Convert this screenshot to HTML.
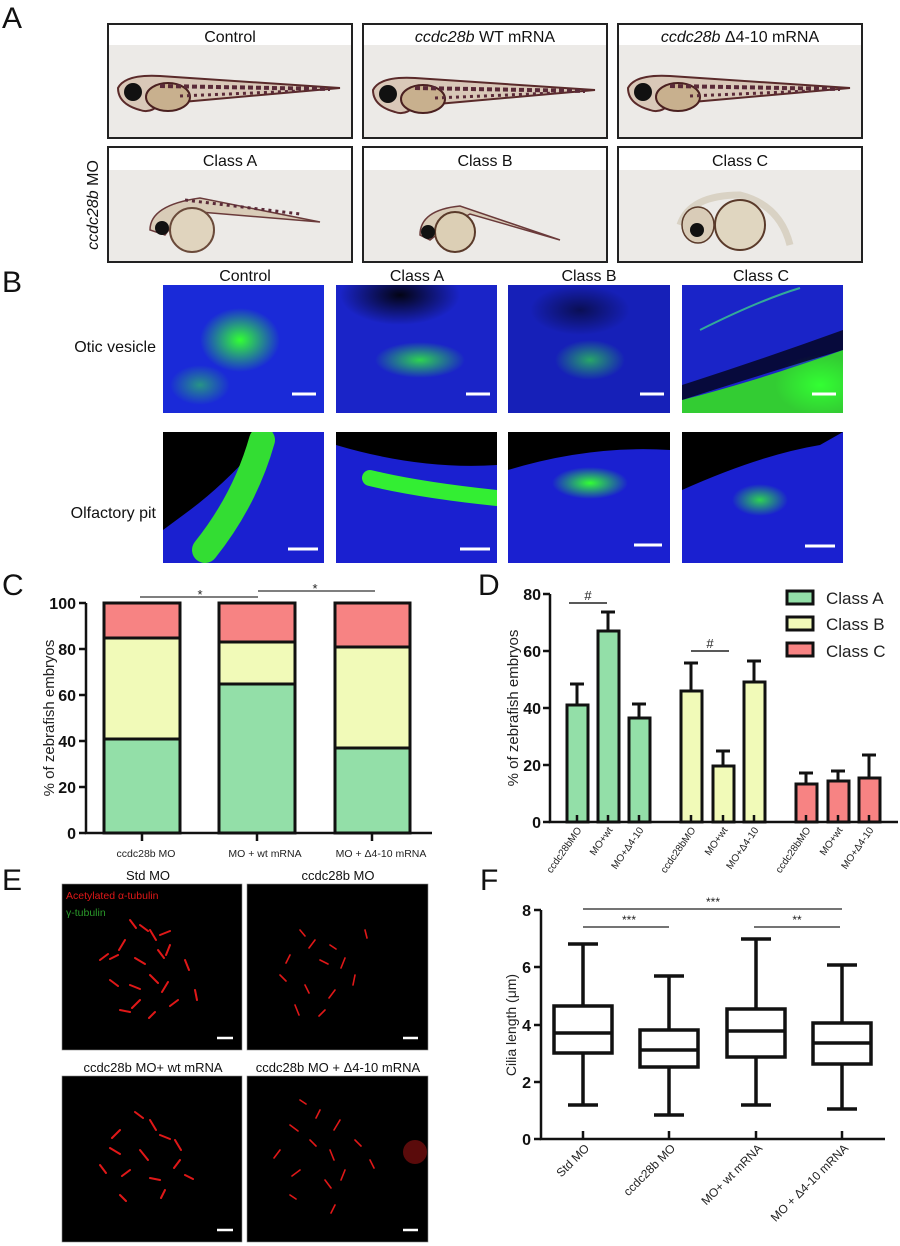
<!DOCTYPE html>
<html><head><meta charset="utf-8"><style>
html,body{margin:0;padding:0;background:#fff;}
svg{display:block;}
text{font-family:"Liberation Sans",sans-serif;}
</style></head><body>
<svg width="900" height="1246" viewBox="0 0 900 1246" xmlns="http://www.w3.org/2000/svg">
<defs>
<radialGradient id="g1"><stop offset="0" stop-color="#3f3" stop-opacity="1"/><stop offset="1" stop-color="#3f3" stop-opacity="0"/></radialGradient>
<radialGradient id="bk"><stop offset="0" stop-color="#000" stop-opacity="0.9"/><stop offset="1" stop-color="#000" stop-opacity="0"/></radialGradient>
<clipPath id="c1"><rect x="163" y="285" width="161" height="128"/></clipPath>
<clipPath id="c2"><rect x="336" y="285" width="161" height="128"/></clipPath>
<clipPath id="c3"><rect x="508" y="285" width="162" height="128"/></clipPath>
<clipPath id="c4"><rect x="682" y="285" width="161" height="128"/></clipPath>
<clipPath id="d1"><rect x="163" y="432" width="161" height="131"/></clipPath>
<clipPath id="d2"><rect x="336" y="432" width="161" height="131"/></clipPath>
<clipPath id="d3"><rect x="508" y="432" width="162" height="131"/></clipPath>
<clipPath id="d4"><rect x="682" y="432" width="161" height="131"/></clipPath>
</defs>
<rect width="900" height="1246" fill="#fff"/>
<g font-size="30" fill="#111">
<text x="2" y="28">A</text><text x="2" y="292">B</text><text x="2" y="595">C</text>
<text x="478" y="595">D</text><text x="2" y="890">E</text><text x="480" y="890">F</text>
</g>

<!-- Panel A -->
<g font-size="16" fill="#111" text-anchor="middle">
<rect x="108" y="24" width="244" height="114" fill="#eceae7" stroke="#222" stroke-width="2"/>
<rect x="109" y="25" width="242" height="20" fill="#fff"/>
<text x="230" y="42">Control</text>
<rect x="363" y="24" width="244" height="114" fill="#eceae7" stroke="#222" stroke-width="2"/>
<rect x="364" y="25" width="242" height="20" fill="#fff"/>
<text x="485" y="42"><tspan font-style="italic">ccdc28b</tspan> WT mRNA</text>
<rect x="618" y="24" width="244" height="114" fill="#eceae7" stroke="#222" stroke-width="2"/>
<rect x="619" y="25" width="242" height="20" fill="#fff"/>
<text x="740" y="42"><tspan font-style="italic">ccdc28b</tspan> Δ4-10 mRNA</text>
<rect x="108" y="147" width="244" height="115" fill="#eceae7" stroke="#222" stroke-width="2"/>
<rect x="109" y="148" width="242" height="22" fill="#fff"/>
<text x="230" y="166">Class A</text>
<rect x="363" y="147" width="244" height="115" fill="#eceae7" stroke="#222" stroke-width="2"/>
<rect x="364" y="148" width="242" height="22" fill="#fff"/>
<text x="485" y="166">Class B</text>
<rect x="618" y="147" width="244" height="115" fill="#eceae7" stroke="#222" stroke-width="2"/>
<rect x="619" y="148" width="242" height="22" fill="#fff"/>
<text x="740" y="166">Class C</text>
<text transform="translate(98,205) rotate(-90)" font-size="16"><tspan font-style="italic">ccdc28b</tspan> MO</text>
</g>
<g>
<g id="fish1">
<path d="M118,88 Q125,74 160,76 L340,88 L160,104 Q150,114 140,110 Q118,104 118,88Z" fill="#d9c8b8" stroke="#5a2a2a" stroke-width="2"/>
<ellipse cx="168" cy="97" rx="22" ry="14" fill="#c8b08e" stroke="#4a2020" stroke-width="2"/>
<circle cx="133" cy="92" r="9" fill="#111"/>
<path d="M160,86 L330,89" stroke="#5a2a38" stroke-width="4" stroke-dasharray="5,3"/>
<path d="M180,96 L300,91" stroke="#5a2a38" stroke-width="3" stroke-dasharray="3,4"/>
</g>
<use href="#fish1" transform="translate(255,2)"/>
<use href="#fish1" transform="translate(510,0)"/>
</g>
<g>
<path d="M150,230 Q150,205 200,198 L320,222 L200,212 Q175,220 165,235Z" fill="#d9ccb8" stroke="#6a3a3a" stroke-width="1.5"/>
<circle cx="192" cy="230" r="22" fill="#e0d4be" stroke="#6a4a3a" stroke-width="2"/>
<circle cx="162" cy="228" r="7" fill="#111"/>
<path d="M185,200 L300,214" stroke="#5a2a38" stroke-width="3" stroke-dasharray="3,4"/>
<path d="M420,235 Q420,210 460,206 L560,240 L470,214 Q445,228 430,240Z" fill="#d9ccb8" stroke="#6a3a3a" stroke-width="1.5"/>
<circle cx="455" cy="232" r="20" fill="#dccfb5" stroke="#5a3a2a" stroke-width="2"/>
<circle cx="428" cy="232" r="7" fill="#111"/>
<path d="M680,225 Q690,195 740,195 Q780,205 790,245" fill="none" stroke="#d9d2c4" stroke-width="7"/>
<circle cx="740" cy="225" r="25" fill="#e0d6c0" stroke="#5a3a2a" stroke-width="2"/>
<ellipse cx="698" cy="225" rx="16" ry="18" fill="#d9ccb8" stroke="#5a3a2a" stroke-width="1.5"/>
<circle cx="697" cy="230" r="7" fill="#111"/>
</g>

<!-- Panel B -->
<g font-size="16" fill="#111" text-anchor="middle">
<text x="245" y="281">Control</text><text x="417" y="281">Class A</text>
<text x="589" y="281">Class B</text><text x="761" y="281">Class C</text>
<text x="156" y="352" text-anchor="end">Otic vesicle</text>
<text x="156" y="518" text-anchor="end">Olfactory pit</text>
</g>
<g clip-path="url(#c1)">
<rect x="163" y="285" width="161" height="128" fill="#1a2ad8"/>
<ellipse cx="240" cy="340" rx="40" ry="32" fill="url(#g1)"/>
<ellipse cx="200" cy="385" rx="30" ry="20" fill="url(#g1)" opacity="0.5"/>
</g>
<g clip-path="url(#c2)">
<rect x="336" y="285" width="161" height="128" fill="#1a24c8"/>
<ellipse cx="400" cy="295" rx="60" ry="30" fill="url(#bk)"/>
<ellipse cx="420" cy="360" rx="45" ry="18" fill="url(#g1)" opacity="0.8"/>
</g>
<g clip-path="url(#c3)">
<rect x="508" y="285" width="162" height="128" fill="#1620b8"/>
<ellipse cx="580" cy="310" rx="50" ry="25" fill="url(#bk)" opacity="0.6"/>
<ellipse cx="590" cy="360" rx="35" ry="20" fill="url(#g1)" opacity="0.6"/>
</g>
<g clip-path="url(#c4)">
<rect x="682" y="285" width="161" height="128" fill="#1a24c8"/>
<path d="M682,400 Q760,380 843,350 L843,413 L682,413Z" fill="#3c3"/>
<ellipse cx="820" cy="385" rx="45" ry="30" fill="url(#g1)"/>
<path d="M682,385 Q760,360 843,330 L843,350 Q760,375 682,400Z" fill="#000" opacity="0.7"/>
<path d="M700,330 Q760,300 800,288" stroke="#3a9" stroke-width="2" fill="none"/>
</g>
<g clip-path="url(#d1)">
<rect x="163" y="432" width="161" height="131" fill="#1a20d0"/>
<path d="M163,432 L270,432 Q230,480 190,510 L163,530Z" fill="#000"/>
<path d="M262,440 Q245,500 205,550" stroke="#3d3" stroke-width="26" fill="none" stroke-linecap="round"/>
</g>
<g clip-path="url(#d2)">
<rect x="336" y="432" width="161" height="131" fill="#1a20d0"/>
<path d="M336,432 L497,432 L497,465 Q420,470 336,445Z" fill="#000"/>
<path d="M370,478 Q420,490 497,498" stroke="#3e3" stroke-width="16" fill="none" stroke-linecap="round"/>
</g>
<g clip-path="url(#d3)">
<rect x="508" y="432" width="162" height="131" fill="#1a20d0"/>
<path d="M508,432 L670,432 L670,450 Q590,445 508,470Z" fill="#000"/>
<ellipse cx="590" cy="483" rx="38" ry="16" fill="url(#g1)"/>
</g>
<g clip-path="url(#d4)">
<rect x="682" y="432" width="161" height="131" fill="#1a20d0"/>
<path d="M682,432 L843,432 L820,445 Q760,455 682,490Z" fill="#000"/>
<ellipse cx="760" cy="500" rx="28" ry="16" fill="url(#g1)" opacity="0.8"/>
</g>
<g stroke="#fff" stroke-width="3">
<line x1="292" y1="394" x2="316" y2="394"/><line x1="466" y1="394" x2="490" y2="394"/>
<line x1="640" y1="394" x2="664" y2="394"/><line x1="812" y1="394" x2="836" y2="394"/>
<line x1="288" y1="549" x2="318" y2="549"/><line x1="460" y1="549" x2="490" y2="549"/>
<line x1="634" y1="545" x2="662" y2="545"/><line x1="805" y1="546" x2="835" y2="546"/>
</g>

<!-- Panel C -->
<g>
<g stroke="#111" stroke-width="3">
<rect x="104" y="739" width="76" height="94" fill="#93dfa8"/>
<rect x="104" y="638" width="76" height="101" fill="#f1fab8"/>
<rect x="104" y="603" width="76" height="35" fill="#f78383"/>
<rect x="219" y="684" width="76" height="149" fill="#93dfa8"/>
<rect x="219" y="642" width="76" height="42" fill="#f1fab8"/>
<rect x="219" y="603" width="76" height="39" fill="#f78383"/>
<rect x="335" y="748" width="75" height="85" fill="#93dfa8"/>
<rect x="335" y="647" width="75" height="101" fill="#f1fab8"/>
<rect x="335" y="603" width="75" height="44" fill="#f78383"/>
</g>
<g stroke="#111" stroke-width="2.5" fill="none">
<path d="M86,603 V833 H432"/>
<path d="M79,603 H86 M79,649 H86 M79,695 H86 M79,741 H86 M79,787 H86 M79,833 H86"/>
<path d="M142,833 V841 M257,833 V841 M372,833 V841"/>
</g>
<g font-size="16" font-weight="bold" text-anchor="end" fill="#111">
<text x="76" y="609">100</text><text x="76" y="655">80</text><text x="76" y="701">60</text>
<text x="76" y="747">40</text><text x="76" y="793">20</text><text x="76" y="839">0</text>
</g>
<text transform="translate(54,718) rotate(-90)" font-size="15" text-anchor="middle" fill="#222">% of zebrafish embryos</text>
<g font-size="10.5" text-anchor="middle" fill="#222">
<text x="146" y="857">ccdc28b MO</text><text x="265" y="857">MO + wt mRNA</text><text x="381" y="857">MO + Δ4-10 mRNA</text>
</g>
<g stroke="#333" stroke-width="1.2"><line x1="140" y1="597" x2="258" y2="597"/><line x1="258" y1="591" x2="375" y2="591"/></g>
<g font-size="13" text-anchor="middle" fill="#222"><text x="200" y="599">*</text><text x="315" y="593">*</text></g>
</g>

<!-- Panel D -->
<g>
<g stroke="#111" stroke-width="3">
<g fill="#93dfa8">
<rect x="567" y="705" width="21" height="117"/><rect x="598" y="631" width="21" height="191"/><rect x="629" y="718" width="21" height="104"/>
</g>
<g fill="#f1fab8">
<rect x="681" y="691" width="21" height="131"/><rect x="713" y="766" width="21" height="56"/><rect x="744" y="682" width="21" height="140"/>
</g>
<g fill="#f78383">
<rect x="796" y="784" width="21" height="38"/><rect x="828" y="781" width="21" height="41"/><rect x="859" y="778" width="21" height="44"/>
</g>
<g fill="none">
<path d="M577,705 V684 M570,684 H584"/><path d="M608,631 V612 M601,612 H615"/><path d="M639,718 V704 M632,704 H646"/>
<path d="M691,691 V663 M684,663 H698"/><path d="M723,766 V751 M716,751 H730"/><path d="M754,682 V661 M747,661 H761"/>
<path d="M806,784 V773 M799,773 H813"/><path d="M838,781 V771 M831,771 H845"/><path d="M869,778 V755 M862,755 H876"/>
</g>
</g>
<g stroke="#111" stroke-width="2.5" fill="none">
<path d="M550,594 V822 H898"/>
<path d="M543,594 H550 M543,651 H550 M543,708 H550 M543,765 H550 M543,822 H550"/>
<path d="M577,815 V822 M608,815 V822 M639,815 V822 M691,815 V822 M723,815 V822 M754,815 V822 M806,815 V822 M838,815 V822 M869,815 V822"/>
</g>
<g font-size="16" font-weight="bold" text-anchor="end" fill="#111">
<text x="541" y="600">80</text><text x="541" y="657">60</text><text x="541" y="714">40</text><text x="541" y="771">20</text><text x="541" y="828">0</text>
</g>
<text transform="translate(518,708) rotate(-90)" font-size="15" text-anchor="middle" fill="#222">% of zebrafish embryos</text>
<g font-size="10" fill="#222" text-anchor="end">
<text transform="translate(582,830) rotate(-55)">ccdc28bMO</text>
<text transform="translate(613,830) rotate(-55)">MO+wt</text>
<text transform="translate(644,830) rotate(-55)">MO+Δ4-10</text>
<text transform="translate(696,830) rotate(-55)">ccdc28bMO</text>
<text transform="translate(728,830) rotate(-55)">MO+wt</text>
<text transform="translate(759,830) rotate(-55)">MO+Δ4-10</text>
<text transform="translate(811,830) rotate(-55)">ccdc28bMO</text>
<text transform="translate(843,830) rotate(-55)">MO+wt</text>
<text transform="translate(874,830) rotate(-55)">MO+Δ4-10</text>
</g>
<g stroke="#222" stroke-width="1.5"><line x1="569" y1="603" x2="607" y2="603"/><line x1="691" y1="651" x2="729" y2="651"/></g>
<g font-size="13" text-anchor="middle" fill="#222"><text x="588" y="600">#</text><text x="710" y="648">#</text></g>
<g stroke="#111" stroke-width="3">
<rect x="787" y="591" width="26" height="13" fill="#93dfa8"/>
<rect x="787" y="617" width="26" height="13" fill="#f1fab8"/>
<rect x="787" y="643" width="26" height="13" fill="#f78383"/>
</g>
<g font-size="17" fill="#222"><text x="826" y="604">Class A</text><text x="826" y="630">Class B</text><text x="826" y="657">Class C</text></g>
</g>

<!-- Panel E -->
<g font-size="13" fill="#111" text-anchor="middle">
<text x="148" y="880">Std MO</text><text x="338" y="880">ccdc28b MO</text>
<text x="153" y="1072">ccdc28b MO+  wt mRNA</text><text x="338" y="1072">ccdc28b MO + Δ4-10 mRNA</text>
</g>
<g>
<rect x="62" y="884" width="180" height="166" fill="#000" stroke="#888" stroke-width="0.6"/>
<rect x="247" y="884" width="181" height="166" fill="#000" stroke="#888" stroke-width="0.6"/>
<rect x="62" y="1076" width="180" height="166" fill="#000" stroke="#888" stroke-width="0.6"/>
<rect x="247" y="1076" width="181" height="166" fill="#000" stroke="#888" stroke-width="0.6"/>
<g stroke="#e01818" stroke-width="2" fill="none" stroke-linecap="round">
<path d="M140,925 l8,6 M150,930 l6,10 M160,935 l10,-4 M125,940 l-6,10 M118,955 l-8,4 M135,958 l10,6 M158,950 l6,8 M170,945 l-4,10 M110,980 l8,6 M130,985 l10,4 M150,975 l8,8 M168,982 l-6,10 M185,960 l4,10 M178,1000 l-8,6 M140,1000 l-8,8 M120,1010 l10,2 M155,1012 l-6,6 M100,960 l8,-6 M195,990 l2,10 M130,920 l6,8"/>
<path d="M300,930 l5,6 M315,940 l-6,8 M330,945 l6,4 M290,955 l-4,8 M320,960 l8,4 M345,958 l-4,10 M280,975 l6,6 M305,985 l4,8 M335,990 l-6,8 M355,975 l-2,10 M295,1005 l4,10 M325,1010 l-6,6 M365,930 l2,8" stroke-width="1.6"/>
<path d="M135,1112 l8,6 M150,1120 l6,10 M120,1130 l-8,8 M160,1135 l10,4 M110,1148 l10,6 M140,1150 l8,10 M175,1140 l6,10 M180,1160 l-6,8 M130,1170 l-8,6 M150,1178 l10,2 M185,1175 l8,4 M100,1165 l6,8 M165,1190 l-4,8 M120,1195 l6,6"/>
<path d="M300,1100 l6,4 M320,1110 l-4,8 M290,1125 l8,6 M340,1120 l-6,10 M310,1140 l6,6 M280,1150 l-6,8 M330,1150 l4,10 M355,1140 l6,6 M300,1170 l-8,6 M325,1180 l6,8 M345,1170 l-4,10 M370,1160 l4,8 M290,1195 l6,4 M335,1205 l-4,8" stroke-width="1.6"/>
<circle cx="415" cy="1152" r="12" fill="#801010" stroke="none" opacity="0.7"/>
</g>
<text x="66" y="899" font-size="10.5" fill="#e01818">Acetylated α-tubulin</text>
<text x="66" y="916" font-size="10.5" fill="#2a9a2a">γ-tubulin</text>
<g stroke="#fff" stroke-width="2.5">
<line x1="217" y1="1038" x2="233" y2="1038"/><line x1="403" y1="1038" x2="418" y2="1038"/>
<line x1="217" y1="1230" x2="233" y2="1230"/><line x1="403" y1="1230" x2="418" y2="1230"/>
</g>
</g>

<!-- Panel F -->
<g>
<g stroke="#111" stroke-width="2.5" fill="none">
<path d="M541,910 V1139 H885"/>
<path d="M534,910 H541 M534,967 H541 M534,1025 H541 M534,1082 H541 M534,1139 H541"/>
<path d="M583,1139 V1131 M669,1139 V1131 M756,1139 V1131 M842,1139 V1131"/>
</g>
<g stroke="#111" stroke-width="3.5" fill="#fff">
<path d="M583,1105 V1053 M583,1006 V944 M568,1105 H598 M568,944 H598" fill="none"/>
<rect x="554" y="1006" width="58" height="47"/><line x1="554" y1="1033" x2="612" y2="1033"/>
<path d="M669,1115 V1067 M669,1030 V976 M654,1115 H684 M654,976 H684" fill="none"/>
<rect x="640" y="1030" width="58" height="37"/><line x1="640" y1="1050" x2="698" y2="1050"/>
<path d="M756,1105 V1057 M756,1009 V939 M741,1105 H771 M741,939 H771" fill="none"/>
<rect x="727" y="1009" width="58" height="48"/><line x1="727" y1="1031" x2="785" y2="1031"/>
<path d="M842,1109 V1064 M842,1023 V965 M827,1109 H857 M827,965 H857" fill="none"/>
<rect x="813" y="1023" width="58" height="41"/><line x1="813" y1="1043" x2="871" y2="1043"/>
</g>
<g font-size="16" font-weight="bold" text-anchor="end" fill="#111">
<text x="531" y="916">8</text><text x="531" y="973">6</text><text x="531" y="1031">4</text><text x="531" y="1088">2</text><text x="531" y="1145">0</text>
</g>
<text transform="translate(516,1025) rotate(-90)" font-size="14" text-anchor="middle" fill="#222">Cilia length (μm)</text>
<g font-size="12" fill="#222" text-anchor="end">
<text transform="translate(590,1149) rotate(-45)">Std MO</text>
<text transform="translate(676,1149) rotate(-45)">ccdc28b MO</text>
<text transform="translate(763,1149) rotate(-45)">MO+ wt mRNA</text>
<text transform="translate(849,1149) rotate(-45)">MO + Δ4-10 mRNA</text>
</g>
<g stroke="#222" stroke-width="1.3">
<line x1="583" y1="909" x2="842" y2="909"/><line x1="583" y1="927" x2="669" y2="927"/><line x1="754" y1="927" x2="840" y2="927"/>
</g>
<g font-size="12" text-anchor="middle" fill="#222">
<text x="713" y="906">***</text><text x="629" y="924">***</text><text x="797" y="924">**</text>
</g>
</g>
</svg>
</body></html>
